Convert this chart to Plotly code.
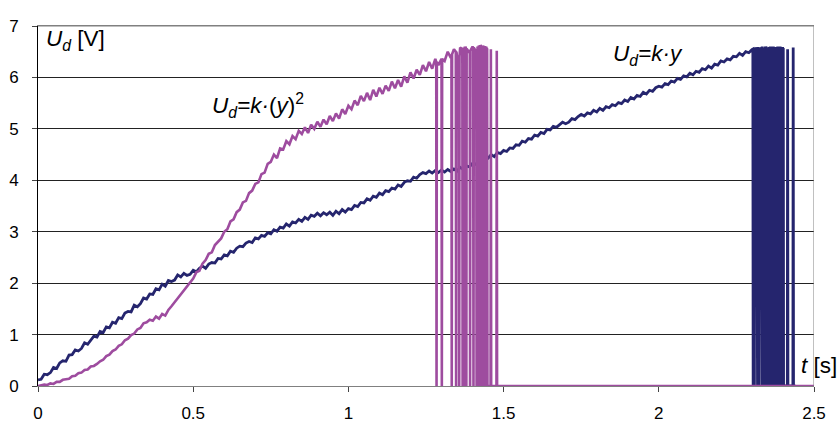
import numpy as np
import plotly.graph_objects as go

# ---------------- data ----------------
# sampled every 0.01 s starting at t = 0
blue_u = [
    0.12, 0.13, 0.23, 0.22, 0.26, 0.36,
    0.34, 0.45, 0.49, 0.48, 0.60,
    0.61, 0.70, 0.68, 0.73, 0.84,
    0.81, 0.90, 0.97, 0.95, 1.06,
    1.04, 1.15, 1.13, 1.24, 1.22,
    1.33, 1.31, 1.42, 1.45, 1.44,
    1.57, 1.54, 1.60, 1.71, 1.69,
    1.79, 1.78, 1.89, 1.87, 1.98,
    1.94, 2.05, 2.03, 2.06, 2.16,
    2.12, 2.19, 2.15, 2.17, 2.25,
    2.22, 2.29, 2.33, 2.29, 2.37,
    2.40, 2.39, 2.48, 2.47, 2.55,
    2.53, 2.62, 2.60, 2.68, 2.72,
    2.71, 2.78, 2.81, 2.79, 2.88,
    2.86, 2.93, 2.91, 2.98, 2.96,
    3.04, 3.01, 3.09, 3.07, 3.15,
    3.11, 3.19, 3.17, 3.24, 3.20,
    3.28, 3.24, 3.32, 3.30, 3.36,
    3.31, 3.37, 3.33, 3.38, 3.32,
    3.40, 3.35, 3.43, 3.38, 3.45,
    3.43, 3.51, 3.49, 3.57, 3.56,
    3.64, 3.61, 3.69, 3.67, 3.75,
    3.72, 3.80, 3.78, 3.85, 3.83,
    3.91, 3.88, 3.96, 3.99, 3.98,
    4.06, 4.04, 4.11, 4.15, 4.13,
    4.18, 4.14, 4.19, 4.15, 4.20,
    4.16, 4.21, 4.17, 4.22, 4.18,
    4.25, 4.21, 4.28, 4.26, 4.33,
    4.31, 4.38, 4.37, 4.44, 4.43,
    4.50, 4.46, 4.54, 4.52, 4.58,
    4.56, 4.63, 4.62, 4.69, 4.68,
    4.76, 4.74, 4.81, 4.80, 4.88,
    4.86, 4.93, 4.91, 4.99, 4.98,
    5.05, 5.03, 5.09, 5.13, 5.10,
    5.13, 5.20, 5.18, 5.24, 5.28,
    5.25, 5.31, 5.29, 5.36, 5.33,
    5.40, 5.36, 5.43, 5.41, 5.47,
    5.45, 5.51, 5.49, 5.56, 5.53,
    5.61, 5.58, 5.65, 5.63, 5.71,
    5.68, 5.75, 5.73, 5.80, 5.83,
    5.81, 5.88, 5.86, 5.93, 5.91,
    5.98, 5.96, 6.03, 6.01, 6.08,
    6.05, 6.12, 6.10, 6.17, 6.15,
    6.22, 6.18, 6.26, 6.24, 6.32,
    6.30, 6.36, 6.34, 6.41, 6.40,
    6.47, 6.43, 6.50, 6.48, 6.54,
    6.52, 6.57, 6.54, 6.59, 6.53, 6.58, 6.55, 6.60, 6.56, 6.59,
]

magenta_u = [
    0.00, 0.01, 0.03, 0.02, 0.05, 0.04,
    0.08, 0.08, 0.12, 0.13, 0.14,
    0.19, 0.20, 0.25, 0.26, 0.31,
    0.32, 0.38, 0.39, 0.43, 0.48,
    0.51, 0.58, 0.61, 0.68, 0.71,
    0.78, 0.81, 0.89, 0.92, 0.99,
    1.02, 1.10, 1.13, 1.22, 1.24,
    1.29, 1.27, 1.35, 1.31, 1.40,
    1.37, 1.48, 1.55, 1.63, 1.71,
    1.77, 1.87, 1.93, 2.03, 2.09,
    2.21, 2.24, 2.38, 2.45, 2.57,
    2.60, 2.74, 2.80, 2.87, 3.00,
    3.05, 3.20, 3.24, 3.38, 3.43,
    3.57, 3.60, 3.75, 3.80, 3.93,
    3.96, 4.12, 4.15, 4.32, 4.36,
    4.50, 4.43, 4.62, 4.60, 4.76,
    4.70, 4.86, 4.80, 4.96, 4.90,
    5.03, 4.92, 5.08, 5.00, 5.14,
    5.04, 5.18, 5.09, 5.25, 5.15,
    5.30, 5.20, 5.38, 5.29, 5.45,
    5.38, 5.55, 5.46, 5.64, 5.54,
    5.70, 5.56, 5.76, 5.63, 5.80,
    5.68, 5.84, 5.74, 5.92, 5.79,
    5.95, 5.82, 6.02, 5.90, 6.10,
    5.98, 6.15, 6.05, 6.24, 6.12,
    6.30, 6.17, 6.36, 6.24, 6.42,
    6.32, 6.50, 6.38, 6.55, 6.41,
    6.58, 6.45, 6.62, 6.48, 6.60,
    6.52, 6.63, 6.50, 6.61,
]

# signal drop-outs (to 0 V) while the sensor saturates
magenta_drop_t = [1.284, 1.301, 1.333, 1.347, 1.357, 1.368, 1.370, 1.372, 1.374,
                  1.376, 1.378, 1.380, 1.392, 1.403, 1.413, 1.415, 1.417, 1.419,
                  1.421, 1.423, 1.425, 1.427, 1.429, 1.431, 1.433, 1.435, 1.437,
                  1.439, 1.441, 1.443, 1.445]
magenta_drop_top = [6.30, 6.36, 6.45, 6.50, 6.40, 6.55, 6.48, 6.58, 6.50, 6.60,
                    6.46, 6.56, 6.52, 6.58, 6.48, 6.60, 6.55, 6.62, 6.50, 6.58,
                    6.63, 6.52, 6.60, 6.56, 6.62, 6.50, 6.58, 6.61, 6.54, 6.60, 6.57]
magenta_cut = (1.448, 6.55)
magenta_spike_t = [1.459, 1.478]
magenta_spike_top = [6.55, 6.52]
magenta_end_t = 2.50

blue_drop_t = [2.304, 2.306, 2.308, 2.310, 2.316, 2.318, 2.320, 2.322, 2.324,
               2.330, 2.332, 2.334, 2.336, 2.338, 2.340, 2.342, 2.344, 2.346,
               2.352, 2.354, 2.356, 2.358, 2.360, 2.362, 2.364, 2.366, 2.368,
               2.374, 2.376, 2.378, 2.380, 2.382, 2.384, 2.386, 2.388, 2.390,
               2.392, 2.394, 2.396, 2.398, 2.400]
blue_drop_top = [6.55, 6.52, 6.58, 6.54, 6.57, 6.50, 6.59, 6.55, 6.52, 6.58,
                 6.54, 6.60, 6.56, 6.52, 6.58, 6.55, 6.60, 6.53, 6.57, 6.59,
                 6.54, 6.60, 6.56, 6.52, 6.58, 6.55, 6.60, 6.57, 6.53, 6.59,
                 6.55, 6.60, 6.54, 6.58, 6.56, 6.60, 6.53, 6.58, 6.55, 6.59, 6.56]
blue_cut = (2.402, 6.57)
blue_spike_t = [2.415, 2.433]
blue_spike_top = [6.55, 6.58]
blue_end_t = 2.44

x_ticks = [0, 0.5, 1, 1.5, 2, 2.5]
x_tick_text = ["0", "0.5", "1", "1.5", "2", "2.5"]
y_ticks = [0, 1, 2, 3, 4, 5, 6, 7]

BLUE = "#25256e"
MAGENTA = "#9e4c9f"
FONT = "Liberation Sans, Arial, sans-serif"


def build(main_u, drop_t, drop_top, cut, spike_t, spike_top, end_t):
    main_t = np.round(np.arange(len(main_u)) * 0.01, 2)
    pts = [(t, u) for t, u in zip(main_t, main_u)
           if t < cut[0] - 0.001 and all(abs(t - d) > 0.0015 for d in drop_t)]
    for d, top in zip(drop_t, drop_top):
        pts += [(d - 0.001, top), (d, 0.0), (d + 0.001, top)]
    pts += [(cut[0] - 0.001, cut[1]), (cut[0], 0.0)]
    for s, top in zip(spike_t, spike_top):
        pts += [(s - 0.001, 0.0), (s, top), (s + 0.001, 0.0)]
    pts += [(end_t, 0.0)]
    pts.sort(key=lambda p: p[0])
    return [p[0] for p in pts], [p[1] for p in pts]


bx, by = build(blue_u, blue_drop_t, blue_drop_top, blue_cut,
               blue_spike_t, blue_spike_top, blue_end_t)
mx, my = build(magenta_u, magenta_drop_t, magenta_drop_top, magenta_cut,
               magenta_spike_t, magenta_spike_top, magenta_end_t)

fig = go.Figure()
fig.add_trace(go.Scatter(x=bx, y=by, mode="lines",
                         line=dict(color=BLUE, width=2.8), hoverinfo="skip"))
fig.add_trace(go.Scatter(x=mx, y=my, mode="lines",
                         line=dict(color=MAGENTA, width=2.6), hoverinfo="skip"))

fig.update_layout(
    width=839, height=422,
    margin=dict(l=38, r=25, t=26, b=36, autoexpand=False),
    paper_bgcolor="white", plot_bgcolor="white",
    showlegend=False,
    font=dict(family=FONT, size=17, color="black"),
    xaxis=dict(range=[0, 2.5], tickvals=x_ticks, ticktext=x_tick_text,
               ticks="outside", ticklen=5, tickcolor="#444", tickwidth=1,
               showgrid=False, zeroline=False, showline=True,
               linecolor="#808080", linewidth=1, mirror=True,
               tickfont=dict(size=17), ticklabelstandoff=7, automargin=False),
    yaxis=dict(range=[0, 7], tickvals=y_ticks,
               ticks="outside", ticklen=5, tickcolor="#444", tickwidth=1,
               showgrid=True, gridcolor="#222", gridwidth=1,
               zeroline=False, showline=True, linecolor="black", linewidth=1,
               tickfont=dict(size=17), ticklabelstandoff=10, automargin=False),
    shapes=[
        dict(type="line", xref="x", yref="y", x0=2.5, x1=2.5, y0=0, y1=7,
             line=dict(color="#808080", width=1)),
        dict(type="line", xref="x", yref="y", x0=0, x1=2.5, y0=7, y1=7,
             line=dict(color="#808080", width=1)),
    ],
)

ann_font = dict(family=FONT, size=22.5, color="black")
fig.add_annotation(x=0.018, y=6.72, xref="x", yref="y", xanchor="left", yanchor="middle",
                   text="<i>U</i><sub><i>d</i></sub> [V]", showarrow=False, font=ann_font)
fig.add_annotation(x=0.555, y=5.46, xref="x", yref="y", xanchor="left", yanchor="middle",
                   text="<i>U</i><sub><i>d</i></sub><i>=k·</i>(<i>y</i>)<sup>2</sup>",
                   showarrow=False, font=ann_font)
fig.add_annotation(x=1.845, y=6.43, xref="x", yref="y", xanchor="left", yanchor="middle",
                   text="<i>U</i><sub><i>d</i></sub><i>=k·y</i>", showarrow=False, font=ann_font)
fig.add_annotation(x=2.452, y=0.39, xref="x", yref="y", xanchor="left", yanchor="middle",
                   text="<i>t</i> [s]", showarrow=False, font=ann_font)

# remove the page's default 8 px body margin so the 839x422 figure fills the window
fig.write_html("out.html",
               config={"displayModeBar": False, "staticPlot": True},
               post_script="document.body.style.margin='0';document.body.style.overflow='hidden';")
